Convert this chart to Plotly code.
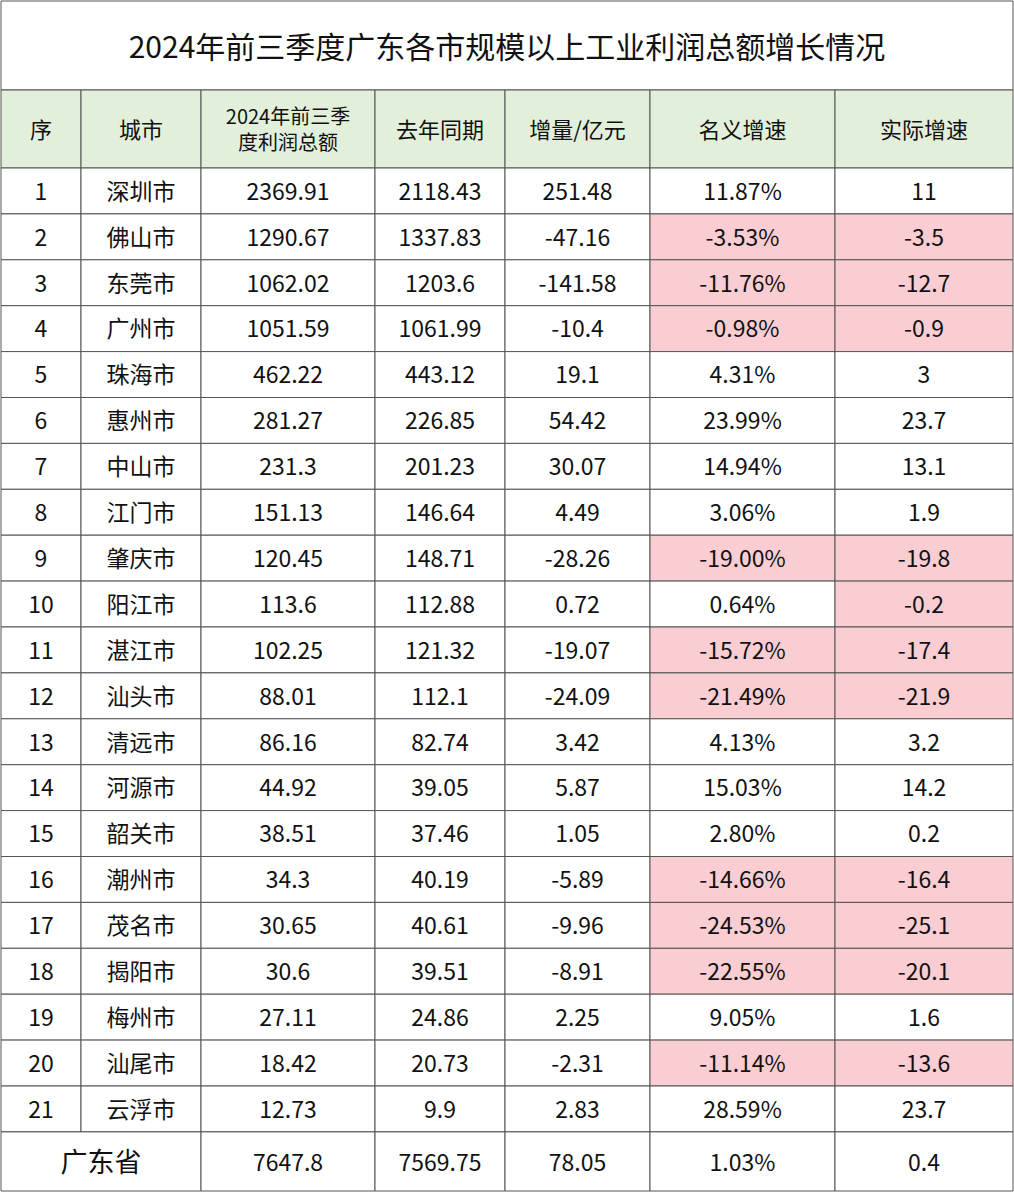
import plotly.graph_objects as go

title = "2024年前三季度广东各市规模以上工业利润总额增长情况"
headers = ["序", "城市", "2024年前三季<br>度利润总额", "去年同期", "增量/亿元", "名义增速", "实际增速"]
cities = ["深圳市","佛山市","东莞市","广州市","珠海市","惠州市","中山市","江门市","肇庆市","阳江市",
          "湛江市","汕头市","清远市","河源市","韶关市","潮州市","茂名市","揭阳市","梅州市","汕尾市","云浮市"]
profit_2024 = ["2369.91","1290.67","1062.02","1051.59","462.22","281.27","231.3","151.13","120.45","113.6",
               "102.25","88.01","86.16","44.92","38.51","34.3","30.65","30.6","27.11","18.42","12.73"]
profit_2023 = ["2118.43","1337.83","1203.6","1061.99","443.12","226.85","201.23","146.64","148.71","112.88",
               "121.32","112.1","82.74","39.05","37.46","40.19","40.61","39.51","24.86","20.73","9.9"]
increase = ["251.48","-47.16","-141.58","-10.4","19.1","54.42","30.07","4.49","-28.26","0.72",
            "-19.07","-24.09","3.42","5.87","1.05","-5.89","-9.96","-8.91","2.25","-2.31","2.83"]
nominal = ["11.87%","-3.53%","-11.76%","-0.98%","4.31%","23.99%","14.94%","3.06%","-19.00%","0.64%",
           "-15.72%","-21.49%","4.13%","15.03%","2.80%","-14.66%","-24.53%","-22.55%","9.05%","-11.14%","28.59%"]
real = ["11","-3.5","-12.7","-0.9","3","23.7","13.1","1.9","-19.8","-0.2",
        "-17.4","-21.9","3.2","14.2","0.2","-16.4","-25.1","-20.1","1.6","-13.6","23.7"]
total = ["广东省", "7647.8", "7569.75", "78.05", "1.03%", "0.4"]

W, H = 1014, 1192
col_x = [1, 81, 201, 375, 505, 650, 835, 1013]
title_bot, head_bot, row_h = 90, 168, 45.9
n = len(cities)
total_top = head_bot + n * row_h
GREEN, PINK, LINE = "#e2efda", "#f9cdd2", "#555555"
FONT = "Noto Sans CJK SC"
DY = 3

shapes = []
def rect(x0, y0, x1, y1, fill="white"):
    shapes.append(dict(type="rect", xref="x", yref="y", x0=x0, x1=x1, y0=y0, y1=y1,
                       fillcolor=fill, line=dict(color=LINE, width=1), layer="below"))

rect(col_x[0], 1, col_x[-1], title_bot)
for c in range(7):
    rect(col_x[c], title_bot, col_x[c+1], head_bot, GREEN)
cols = [[str(i+1) for i in range(n)], cities, profit_2024, profit_2023, increase, nominal, real]
for r in range(n):
    y0 = head_bot + r * row_h
    for c in range(7):
        fill = PINK if c >= 5 and cols[c][r].startswith("-") else "white"
        rect(col_x[c], y0, col_x[c+1], y0 + row_h, fill)
rect(col_x[0], total_top, col_x[2], H - 1)
for c in range(2, 7):
    rect(col_x[c], total_top, col_x[c+1], H - 1)

fig = go.Figure()
centers = [(col_x[c] + col_x[c+1]) / 2 for c in range(7)]
fig.add_trace(go.Scatter(x=[W/2], y=[47 + DY], mode="text", text=[title],
                         textfont=dict(family=FONT, size=30, color="#111")))
fig.add_trace(go.Scatter(x=centers, y=[(title_bot+head_bot)/2 + DY]*7, mode="text", text=headers,
                         textfont=dict(family=FONT, size=[22, 22, 20, 22, 22, 22, 22], color="#111")))
for c in range(7):
    ys = [head_bot + (r + 0.5) * row_h + DY for r in range(n)]
    fig.add_trace(go.Scatter(x=[centers[c]]*n, y=ys, mode="text", text=cols[c],
                             textfont=dict(family=FONT, size=23, color="#111")))
tx = [(col_x[0] + col_x[2]) / 2] + centers[2:]
sizes = [27] + [23]*5
fig.add_trace(go.Scatter(x=tx, y=[(total_top + H) / 2 + DY]*6, mode="text", text=total,
                         textfont=dict(family=FONT, size=sizes, color="#111")))

fig.update_layout(width=W, height=H, margin=dict(l=0, r=0, t=0, b=0), showlegend=False,
                  plot_bgcolor="white", paper_bgcolor="white", shapes=shapes,
                  xaxis=dict(range=[0, W], visible=False, fixedrange=True),
                  yaxis=dict(range=[H, 0], visible=False, fixedrange=True))
fig.write_html("out.html", config={"displayModeBar": False},
               post_script="document.body.style.margin='0';document.body.style.overflow='hidden';")
